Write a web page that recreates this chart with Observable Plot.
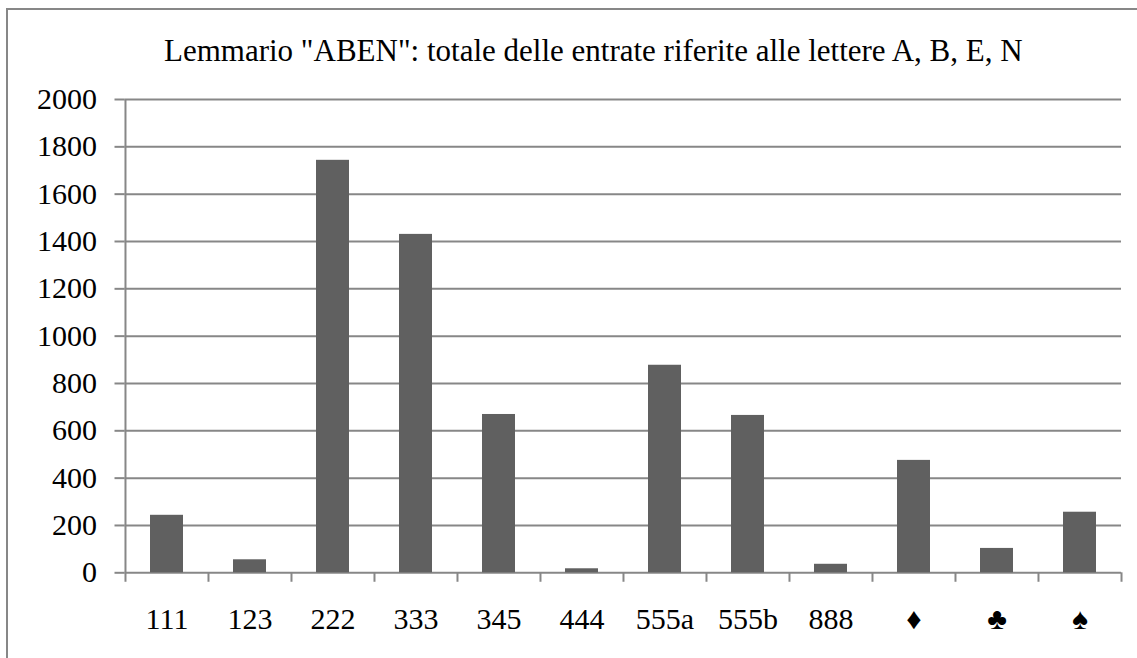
<!DOCTYPE html>
<html>
<head>
<meta charset="utf-8">
<script src="https://cdn.jsdelivr.net/npm/d3@7"></script>
<script src="https://cdn.jsdelivr.net/npm/@observablehq/plot@0.6"></script>
<style>
  html, body { margin: 0; padding: 0; background: #fff; overflow: hidden; }
  #wrap { position: relative; width: 1137px; height: 658px; overflow: hidden; }
  #frame { position: absolute; left: 6px; top: 8px; width: 1300px; height: 800px; border: 2px solid #878787; box-sizing: border-box; pointer-events: none; }
  #chart { position: absolute; left: 0; top: 0; }
</style>
</head>
<body>
<div id="wrap"><div id="chart"></div><div id="frame"></div></div>
<script>
const title = 'Lemmario "ABEN": totale delle entrate riferite alle lettere A, B, E, N';
const categories = ["111", "123", "222", "333", "345", "444", "555a", "555b", "888", "\u2666", "\u2663", "\u2660"];
const values = [243, 55, 1743, 1430, 669, 17, 877, 665, 36, 475, 103, 256];
const yTicks = [0, 200, 400, 600, 800, 1000, 1200, 1400, 1600, 1800, 2000];

const data = categories.map((c, i) => ({cat: c, value: values[i]}));

const W = 1137, H = 658;
const mL = 124.5, mR = 16, mT = 99, mB = 85.7;
const pInner = 0.6, pOuter = 0.3;
const step = (W - mL - mR) / (categories.length - pInner + 2 * pOuter);
const grey = "#878787";
const font = "Liberation Serif, Times New Roman, serif";

const chart = Plot.plot({
  width: W,
  height: H,
  marginLeft: mL,
  marginRight: mR,
  marginTop: mT,
  marginBottom: mB,
  style: {fontFamily: font, background: "transparent", color: "#000"},
  x: {domain: categories, paddingInner: pInner, paddingOuter: pOuter, label: null},
  y: {domain: [0, 2000], label: null},
  marks: [
    Plot.ruleY(yTicks, {stroke: grey, strokeWidth: 2}),
    Plot.axisY({ticks: yTicks, tickSize: 10, tickPadding: 18, fontSize: 30, stroke: grey, strokeWidth: 2, strokeOpacity: 1, label: null, tickFormat: d => String(d)}),
    Plot.axisX({tickSize: 0, tickPadding: 35, fontSize: 30, label: null}),
    Plot.ruleX(categories, {x: d => d, dx: -step / 2, y1: -40, y2: 0, stroke: grey, strokeWidth: 2}),
    Plot.ruleX([categories[categories.length - 1]], {x: d => d, dx: step / 2, y1: -40, y2: 0, stroke: grey, strokeWidth: 2}),
    Plot.ruleX([categories[0]], {x: d => d, dx: -step / 2, y1: 0, y2: 2000, stroke: grey, strokeWidth: 2}),
    Plot.barY(data, {x: "cat", y: "value", fill: "#606060"}),
    Plot.text([title], {frameAnchor: "top", lineAnchor: "bottom", dx: -30, dy: -38.3, fontSize: 31, fill: "#000", text: d => d})
  ]
});
document.getElementById("chart").appendChild(chart);
</script>
</body>
</html>
